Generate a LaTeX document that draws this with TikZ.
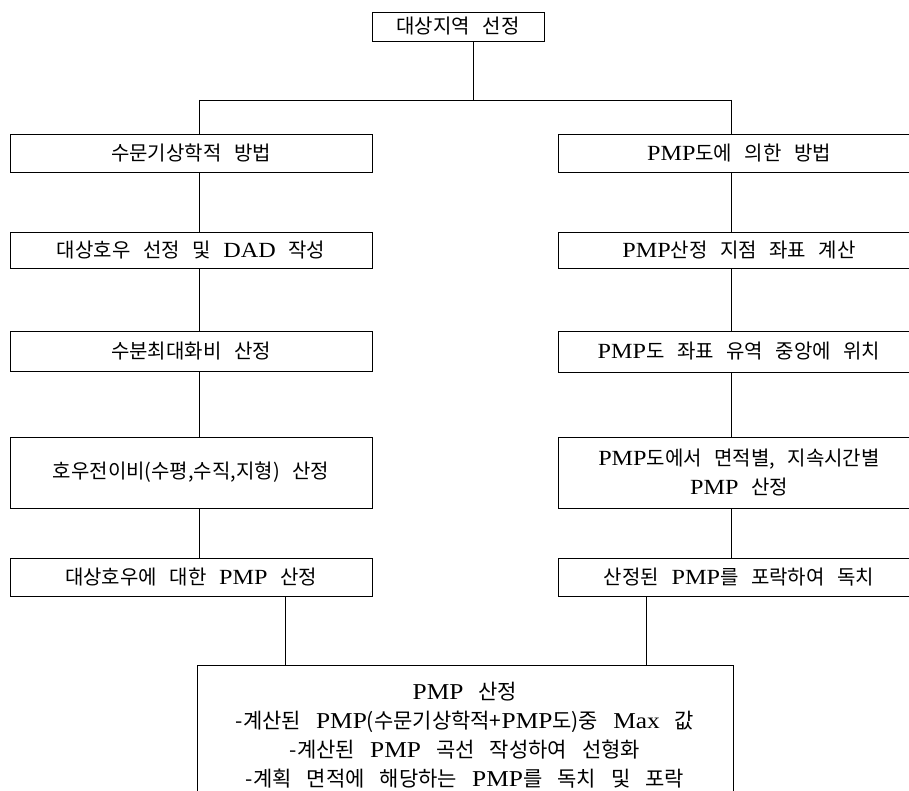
\documentclass[tikz,border=0pt]{standalone}
\usepackage{fontspec}
\setmainfont{Noto Sans CJK KR}[WordSpace=2.8]
\newfontfamily\widekr{Noto Sans CJK KR}[WordSpace=3.2]
\newfontfamily\latf{Liberation Serif}[Scale=1.08,FakeStretch=1.12]
\newcommand\lt[1]{{\latf #1}}
\tikzset{
  box/.style={draw, line width=0.8pt, inner sep=0pt, align=center,
    font=\fontsize{20}{29}\selectfont},
  lbox/.style={box, minimum width=362pt},
  link/.style={line width=0.8pt}
}
\begin{document}
\begin{tikzpicture}[x=1pt,y=-1pt]
\useasboundingbox (0,0) rectangle (909,791);
\clip (0,0) rectangle (909,791);
\fill[white] (0,0) rectangle (909,791);
% top
\node[box, minimum width=172pt, minimum height=29pt] (top) at (458,26.5) {대상지역 선정};
% left column
\node[lbox, minimum height=38pt] (L1) at (191,153) {수문기상학적 방법};
\node[lbox, minimum height=36pt] (L2) at (191,250) {대상호우 선정 및 \lt{DAD} 작성};
\node[lbox, minimum height=40pt] (L3) at (191,351) {수분최대화비 산정};
\node[lbox, minimum height=71pt] (L4) at (191,472.5) {호우전이비(수평,수직,지형) 산정};
\node[lbox, minimum height=38pt] (L5) at (191,577) {대상호우에 대한 \lt{PMP} 산정};
% right column
\node[lbox, minimum height=38pt] (R1) at (739,153) {\lt{PMP}도에 의한 방법};
\node[lbox, minimum height=36pt] (R2) at (739,250) {\lt{PMP}산정 지점 좌표 계산};
\node[lbox, minimum height=41pt] (R3) at (739,351.5) {\lt{PMP}도 좌표 유역 중앙에 위치};
\node[lbox, minimum height=71pt] (R4) at (739,472.5) {\lt{PMP}도에서 면적별, 지속시간별\\\lt{PMP} 산정};
\node[lbox, minimum height=38pt] (R5) at (739,577) {산정된 \lt{PMP}를 포락하여 독치};
% bottom
\node[box, minimum width=536pt, minimum height=140pt,
  font=\widekr\fontsize{21}{29}\selectfont] (B) at (465,735)
  {\lt{PMP} 산정\\
   -계산된 \lt{PMP}(수문기상학적+\lt{PMP}도)중 \lt{Max} 값\\
   -계산된 \lt{PMP} 곡선 작성하여 선형화\\
   -계획 면적에 해당하는 \lt{PMP}를 독치 및 포락};
% connectors
\coordinate (tj) at (473,100);
\coordinate (lj) at (199,100);
\coordinate (rj) at (731,100);
\coordinate (bl) at (285,0);
\coordinate (br) at (646,0);
\draw[link] (top.south -| tj) -- (tj);
\draw[link] (lj) -- (rj);
\draw[link] (lj) -- (L1.north -| lj);
\draw[link] (rj) -- (R1.north -| rj);
\draw[link] (L1.south -| lj) -- (L2.north -| lj);
\draw[link] (L2.south -| lj) -- (L3.north -| lj);
\draw[link] (L3.south -| lj) -- (L4.north -| lj);
\draw[link] (L4.south -| lj) -- (L5.north -| lj);
\draw[link] (R1.south -| rj) -- (R2.north -| rj);
\draw[link] (R2.south -| rj) -- (R3.north -| rj);
\draw[link] (R3.south -| rj) -- (R4.north -| rj);
\draw[link] (R4.south -| rj) -- (R5.north -| rj);
\draw[link] (L5.south -| bl) -- (B.north -| bl);
\draw[link] (R5.south -| br) -- (B.north -| br);
\end{tikzpicture}
\end{document}
